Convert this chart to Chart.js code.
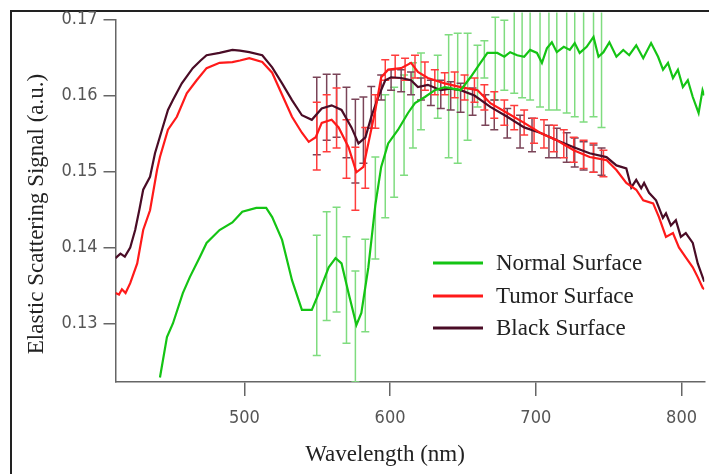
<!DOCTYPE html>
<html><head><meta charset="utf-8">
<script src="https://cdn.jsdelivr.net/npm/chart.js@4.4.1/dist/chart.umd.min.js"></script>
<style>
html,body{margin:0;padding:0;background:#fff;}
#wrap{position:relative;width:709px;height:474px;overflow:hidden;background:#fff;}
#frame{position:absolute;left:10px;top:10px;width:720px;height:480px;border-top:2px solid #222;border-left:2px solid #222;}
canvas{position:absolute;left:0;top:0;}
</style></head><body>
<div id="wrap"><div id="frame"></div><canvas id="c" width="709" height="474"></canvas></div>
<script>
// ---------- data ----------
const xTicks = [500, 600, 700, 800];
const yTicks = [0.13, 0.14, 0.15, 0.16, 0.17];
const seriesNames = ['Normal Surface', 'Tumor Surface', 'Black Surface'];

const normalX = [442.1,446.9,451,457.8,462.6,469.4,474.1,483,491.8,498.6,508.2,515,519.1,525.9,532.7,539.5,546.3,551.1,557.9,562.6,566.7,571.5,576.9,580.3,585.1,589.9,593.9,598.7,605.5,612.3,617.1,623.9,630.7,637.5,648.4,655.2,662,666.8,673.6,678.4,682.4,687.2,692,696.1,700.8,704.2,707.6,711.0,714.4,719.2,723.3,726.7,730.1,734.9,739.6,743.0,746.4,750.5,755.3,760.0,764.1,768.9,773.7,779.1,783.9,787.3,790.7,794.1,797.5,800.9,804.3,807.7,811.7,814.4,815.6];
const normalY = [0.1229,0.1282,0.1300,0.1340,0.1361,0.1387,0.1406,0.1423,0.1433,0.1447,0.1452,0.1452,0.1440,0.1410,0.1357,0.1318,0.1318,0.1340,0.1374,0.1386,0.1379,0.1340,0.1298,0.1314,0.1374,0.1456,0.1506,0.1537,0.1555,0.1577,0.1590,0.1598,0.1607,0.1611,0.1607,0.1624,0.1643,0.1656,0.1656,0.1651,0.1657,0.1653,0.1651,0.1660,0.1656,0.1643,0.1662,0.1670,0.1657,0.1664,0.1660,0.1669,0.1656,0.1664,0.1677,0.1651,0.1657,0.1670,0.1651,0.1660,0.1653,0.1666,0.1649,0.1669,0.1651,0.1634,0.1643,0.1623,0.1634,0.1611,0.1620,0.1598,0.1577,0.1607,0.1600];

const tumorX = [411.6,414,416,418.5,421.7,426.5,430.6,435.3,440.1,442.1,447.6,453.7,460.5,467.3,474.1,483,491.8,497,503.4,512.3,519.1,525.9,532.7,539.5,544.2,549,553.1,559.9,564.7,571.5,576.9,581.7,585.1,589.9,593.9,598.7,607.6,614.4,619.1,625.9,637.5,648.4,660,668.8,680.4,692,702.9,714.4,726,736.9,748.5,755.3,762.1,768.9,773.7,780.5,784.5,789.3,794.1,798.2,802.9,807.7,811.1,814.5,815.6];
const tumorY = [0.1340,0.1338,0.1345,0.1340,0.1353,0.1379,0.1423,0.1449,0.1502,0.1519,0.1555,0.1572,0.1603,0.1620,0.1636,0.1643,0.1644,0.1646,0.1649,0.1644,0.1630,0.1601,0.1572,0.1551,0.1539,0.1545,0.1564,0.1568,0.1558,0.1532,0.1499,0.1506,0.1537,0.1581,0.1624,0.1634,0.1636,0.1643,0.1631,0.1623,0.1616,0.1611,0.1607,0.1590,0.1577,0.1564,0.1551,0.1541,0.1528,0.1519,0.1515,0.1502,0.1485,0.1476,0.1462,0.1458,0.1440,0.1414,0.1419,0.1400,0.1387,0.1374,0.1361,0.1347,0.1345];

const blackX = [411.6,415,418,421.7,425.1,428,430.6,435.3,438.7,443.5,447.6,451,457.1,464.6,470,474.1,483,491.8,497,503.4,512.3,519.1,525.9,532.7,539.5,546.3,553.1,559.9,566.7,573.5,578.3,583.1,587.1,591.9,596.7,600.7,607.6,614.4,619.1,625.9,634.8,641,648.4,657.9,668.8,680.4,692,702.9,714.4,726,736.9,748.5,755.3,762.1,765.5,768.9,772.3,774.3,777.7,782.5,787.2,789.3,792.7,796.1,799.5,802.9,807.7,811.1,815.6];
const blackY = [0.1386,0.1392,0.1388,0.1400,0.1423,0.1450,0.1476,0.1493,0.1524,0.1555,0.1581,0.1594,0.1616,0.1636,0.1646,0.1653,0.1656,0.1660,0.1659,0.1657,0.1653,0.1637,0.1616,0.1594,0.1574,0.1568,0.1583,0.1587,0.1581,0.1558,0.1537,0.1545,0.1572,0.1598,0.1620,0.1624,0.1623,0.1620,0.1611,0.1614,0.1607,0.1609,0.1607,0.1600,0.1585,0.1572,0.1558,0.1551,0.1541,0.1532,0.1524,0.1519,0.1508,0.1504,0.1479,0.1489,0.1478,0.1485,0.1472,0.1462,0.1439,0.1445,0.1429,0.1436,0.1414,0.1419,0.1406,0.1379,0.1355];

// error bars: wavelength, upper, lower
const normalErrX  = [549.7,556.5,563.3,570.1,576.2,583.0,589.9,596.7,602.8,609.6,615.7,621.2,632.7,640.2,646.4,653.2,660.0,664.7,672.2,678.4,685.2,690.6,696.1,702.9,709.0,714.4,721.2,726.7,732.8,739.6,745.1];
const normalErrHi = [0.1416,0.1447,0.1453,0.1414,0.1369,0.1411,0.1519,0.1601,0.1611,0.1627,0.1643,0.1656,0.1653,0.1680,0.1682,0.1682,0.1666,0.1672,0.1703,0.1699,0.1712,0.1712,0.1712,0.1712,0.1712,0.1712,0.1712,0.1712,0.1712,0.1712,0.1712];
const normalErrLo = [0.1258,0.1304,0.1315,0.1274,0.1223,0.1289,0.1385,0.1439,0.1466,0.1495,0.1531,0.1555,0.1570,0.1518,0.1511,0.1541,0.1585,0.1623,0.1594,0.1607,0.1603,0.1597,0.1594,0.1585,0.1581,0.1581,0.1577,0.1572,0.1565,0.1572,0.1558];

const tumorErrX  = [549.7,556.5,563.3,570.1,576.2,583.0,589.9,596.7,603.5,610.3,617.1,623.9,630.7,637.5,644.3,651.1,657.9,664.7,671.5,678.4,685.2,692.0,698.8,705.6,712.4,719.2,726.0,732.8,739.6,746.4];
const tumorErrHi = [0.1591,0.1601,0.1610,0.1568,0.1532,0.1558,0.1601,0.1647,0.1653,0.1649,0.1653,0.1644,0.1634,0.1630,0.1631,0.1627,0.1623,0.1614,0.1605,0.1594,0.1587,0.1581,0.1570,0.1568,0.1561,0.1555,0.1545,0.1541,0.1537,0.1528];
const tumorErrLo = [0.1502,0.1526,0.1531,0.1491,0.1449,0.1478,0.1557,0.1620,0.1623,0.1620,0.1623,0.1607,0.1601,0.1601,0.1597,0.1594,0.1591,0.1581,0.1570,0.1561,0.1555,0.1548,0.1537,0.1531,0.1526,0.1518,0.1512,0.1504,0.1499,0.1493];

const blackErrX  = [549.7,556.5,563.3,570.1,576.2,581.7,587.1,593.9,600.7,607.6,614.4,621.2,628.0,634.8,641.6,648.4,656.6,665.4,671.5,680.4,689.2,697.4,709.0,714.4,721.2,726.7,732.8,739.6,745.1];
const blackErrHi = [0.1624,0.1628,0.1628,0.1611,0.1595,0.1598,0.1612,0.1627,0.1634,0.1634,0.1631,0.1623,0.1620,0.1620,0.1618,0.1616,0.1610,0.1601,0.1594,0.1583,0.1574,0.1570,0.1561,0.1557,0.1551,0.1544,0.1539,0.1535,0.1531];
const blackErrLo = [0.1522,0.1541,0.1545,0.1518,0.1485,0.1511,0.1557,0.1594,0.1607,0.1605,0.1601,0.1594,0.1587,0.1583,0.1581,0.1578,0.1574,0.1561,0.1555,0.1544,0.1531,0.1526,0.1518,0.1518,0.1512,0.1506,0.1502,0.1499,0.1495];

// ---------- styling ----------
const lineColors = ['#14c414', '#ff1a1a', '#4a0c26'];
const barColors  = ['#7fdc7f', '#ff3c3c', '#7a4458'];
const tickFont = "'Liberation Sans Narrow','DejaVu Sans Condensed','Arial Narrow',sans-serif";
const serif = "'Liberation Serif','Times New Roman',serif";

const toPts = (xs, ys) => xs.map((v, i) => ({x: v, y: ys[i]}));

const errSets = [
  {x: normalErrX, hi: normalErrHi, lo: normalErrLo, color: barColors[0]},
  {x: blackErrX, hi: blackErrHi, lo: blackErrLo, color: barColors[2]},
  {x: tumorErrX, hi: tumorErrHi, lo: tumorErrLo, color: barColors[1]},
];

const errorBars = {
  id: 'errorBars',
  beforeDatasetsDraw(chart) {
    const {ctx, chartArea: a, scales: {x, y}} = chart;
    ctx.save();
    ctx.beginPath();
    ctx.rect(a.left, a.top - 7, a.right - a.left, a.bottom - a.top + 7);
    ctx.clip();
    ctx.lineWidth = 1.5;
    for (const s of errSets) {
      ctx.strokeStyle = s.color;
      s.x.forEach((xv, i) => {
        const px = x.getPixelForValue(xv);
        const p1 = y.getPixelForValue(s.hi[i]);
        const p2 = y.getPixelForValue(s.lo[i]);
        ctx.beginPath();
        ctx.moveTo(px, p1); ctx.lineTo(px, p2);
        ctx.moveTo(px - 4, p1); ctx.lineTo(px + 4, p1);
        ctx.moveTo(px - 4, p2); ctx.lineTo(px + 4, p2);
        ctx.stroke();
      });
    }
    ctx.restore();
  }
};

const annotations = {
  id: 'annotations',
  afterDraw(chart) {
    const {ctx} = chart;
    ctx.save();
    ctx.fillStyle = '#222';
    ctx.font = '23px ' + serif;
    ctx.textAlign = 'center';
    ctx.textBaseline = 'middle';
    ctx.fillText('Wavelength (nm)', 385, 455);
    ctx.save();
    ctx.translate(37, 214);
    ctx.rotate(-Math.PI / 2);
    ctx.fillText('Elastic Scattering Signal (a.u.)', 0, 0);
    ctx.restore();
    const rows = [263, 296, 328];
    ctx.textAlign = 'left';
    seriesNames.forEach((n, i) => {
      ctx.strokeStyle = lineColors[i];
      ctx.lineWidth = 3;
      ctx.beginPath();
      ctx.moveTo(433, rows[i]); ctx.lineTo(483, rows[i]);
      ctx.stroke();
      ctx.fillStyle = '#222';
      ctx.fillText(n, 496, rows[i] + 1);
    });
    ctx.restore();
  }
};

new Chart(document.getElementById('c'), {
  type: 'line',
  data: {
    datasets: [
      {label: seriesNames[0], data: toPts(normalX, normalY), borderColor: lineColors[0]},
      {label: seriesNames[1], data: toPts(tumorX, tumorY), borderColor: lineColors[1]},
      {label: seriesNames[2], data: toPts(blackX, blackY), borderColor: lineColors[2]},
    ]
  },
  options: {
    responsive: false,
    devicePixelRatio: 1,
    animation: false,
    layout: {padding: {top: 19.5, left: 0, right: 0, bottom: 0}},
    elements: {
      line: {borderWidth: 2.2, tension: 0, fill: false},
      point: {radius: 0, hoverRadius: 0}
    },
    plugins: {legend: {display: false}, tooltip: {enabled: false}, title: {display: false}},
    scales: {
      x: {
        type: 'linear',
        min: 411.6, max: 815.6,
        afterBuildTicks: s => { s.ticks = xTicks.map(v => ({value: v})); },
        afterFit: s => { s.height = 92; },
        ticks: {font: {family: tickFont, size: 18}, color: '#555', padding: 12, maxRotation: 0, autoSkip: false},
        grid: {display: true, drawOnChartArea: false, drawTicks: true, tickLength: 14, color: '#666', lineWidth: 1.5},
        border: {display: true, color: '#666', width: 1.5}
      },
      y: {
        type: 'linear',
        min: 0.1223, max: 0.17,
        afterBuildTicks: s => { s.ticks = yTicks.map(v => ({value: v})); },
        afterFit: s => { s.width = 115.5; },
        ticks: {font: {family: tickFont, size: 18}, color: '#555', padding: 6, callback: v => v.toFixed(2)},
        grid: {display: true, drawOnChartArea: false, drawTicks: true, tickLength: 12, color: '#666', lineWidth: 1.5},
        border: {display: true, color: '#666', width: 1.5}
      }
    }
  },
  plugins: [errorBars, annotations]
});
</script>
</body></html>
